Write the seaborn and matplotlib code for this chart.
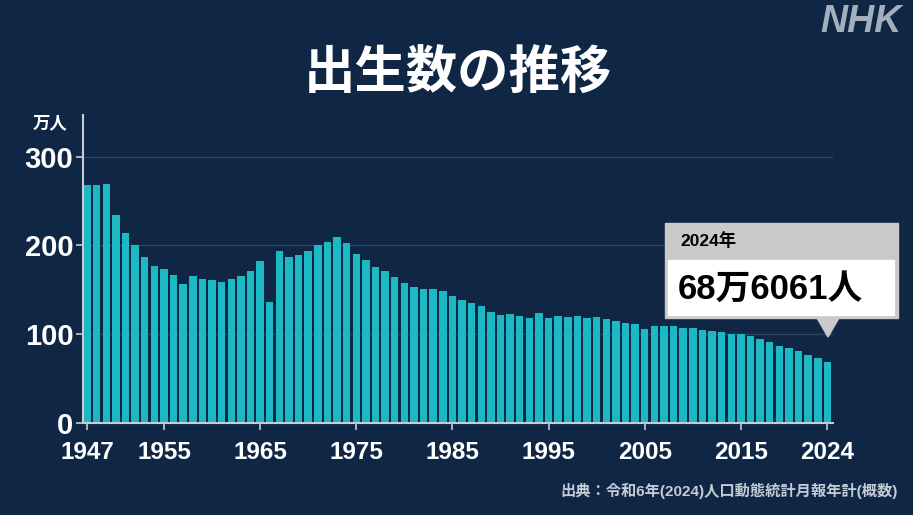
import numpy as np
import pandas as pd
import matplotlib.pyplot as plt
import matplotlib.patches as mpatches
import seaborn as sns

# births per year, in 万人 (10k people)
years = list(range(1947, 2025))
births = [267.9, 268.2, 269.7, 233.8, 213.8, 200.5, 186.8, 177.0, 173.1, 166.5,
          156.7, 165.3, 162.6, 160.6, 158.9, 161.9, 166.0, 171.7, 182.4, 136.1,
          193.6, 187.2, 189.0, 193.4, 200.1, 203.9, 209.2, 203.0, 190.1, 183.3,
          175.5, 170.9, 164.3, 157.7, 152.9, 151.5, 150.9, 149.0, 143.2, 138.3,
          134.7, 131.4, 124.7, 122.2, 122.3, 120.9, 118.8, 123.8, 118.7, 120.7,
          119.2, 120.3, 117.8, 119.1, 117.1, 115.4, 112.4, 111.1, 106.3, 109.3,
          109.0, 109.1, 107.0, 107.1, 105.1, 103.7, 103.0, 100.4, 100.6, 97.7,
          94.6, 91.8, 86.5, 84.1, 81.2, 77.1, 72.7, 68.6]
tick_years = [1947, 1955, 1965, 1975, 1985, 1995, 2005, 2015, 2024]
y_ticks = [0, 100, 200, 300]

bg = "#0f2645"
bar_color = "#1ab9c3"
light = "#c5ccd6"

df = pd.DataFrame({"year": years, "births": births})

sns.set_theme(style="dark")
plt.rcParams["font.family"] = ["Liberation Sans", "Noto Sans CJK JP", "DejaVu Sans"]

W, H = 913, 515
fig = plt.figure(figsize=(W / 100, H / 100), dpi=100, facecolor=bg)

def px(x, y):
    return (x / W, 1 - y / H)

ax = fig.add_axes([83 / W, 1 - 423 / H, (833 - 83) / W, (423 - 115) / H])
ax.set_facecolor(bg)

for v in y_ticks[1:]:
    ax.axhline(v, color="#2b4566", lw=1, zorder=0)

sns.barplot(data=df, x="year", y="births", color=bar_color, width=0.78,
            saturation=1, ax=ax, zorder=2, edgecolor="none", linewidth=0)

ax.set_xlim(-0.42, len(years) - 0.42)
ax.set_ylim(0, 347)
ax.set_xticks([years.index(y) for y in tick_years])
ax.set_xticklabels([str(y) for y in tick_years])
ax.set_yticks(y_ticks)
ax.set_xlabel("")
ax.set_ylabel("")
ax.grid(False)

for s in ["top", "right"]:
    ax.spines[s].set_visible(False)
for s in ["left", "bottom"]:
    ax.spines[s].set_visible(True)
    ax.spines[s].set_color(light)
    ax.spines[s].set_linewidth(1.5)
    ax.spines[s].set_zorder(3)

ax.tick_params(axis="x", colors=light, length=5, width=1.2, direction="out", pad=8,
               bottom=True)
ax.tick_params(axis="y", colors=light, length=5, width=1.2, direction="out", pad=2,
               left=True)
for lab in ax.get_xticklabels():
    lab.set_color("white")
    lab.set_fontsize(17.5)
    lab.set_fontweight("bold")
for lab in ax.get_yticklabels():
    lab.set_color("white")
    lab.set_fontsize(21)
    lab.set_fontweight("bold")

# texts
fig.text(*px(50, 123), "万人", color="white", fontsize=12.5, fontweight="bold",
         ha="center", va="center")
fig.text(*px(458, 75), "出生数の推移", color="white", fontsize=37, fontweight="bold",
         ha="center", va="center")
fig.text(*px(902, 22), "NHK", color="#a3afbf", fontsize=27, fontweight="bold",
         fontstyle="italic", ha="right", va="center")
fig.text(*px(898, 491), "出典：令和6年(2024)人口動態統計月報年計(概数)", color="#c3cbd6",
         fontsize=11, fontweight="bold", ha="right", va="center")

# callout
x0, y0 = px(665, 318)
fig.patches.append(mpatches.Rectangle((x0, y0), (898 - 665) / W, (318 - 223) / H,
                                      transform=fig.transFigure, color="#c9c9c9",
                                      zorder=5))
x1, y1 = px(668, 315)
fig.patches.append(mpatches.Rectangle((x1, y1), (894 - 668) / W, (315 - 260) / H,
                                      transform=fig.transFigure, color="white",
                                      zorder=6))
tri = [px(817, 318), px(839, 318), px(828, 337)]
fig.patches.append(mpatches.Polygon(tri, closed=True, transform=fig.transFigure,
                                    color="#c9c9c9", zorder=5))
fig.text(*px(680, 241), "2024年", color="black", fontsize=12.5, fontweight="bold",
         ha="left", va="center", zorder=7)
fig.text(*px(678, 289), "68万6061人", color="black", fontsize=25, fontweight="bold",
         ha="left", va="center", zorder=7)

fig.savefig("out.png", dpi=100, facecolor=bg)
